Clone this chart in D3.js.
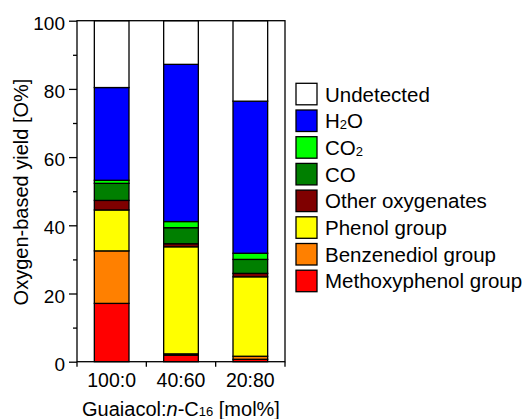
<!DOCTYPE html>
<html><head><meta charset="utf-8">
<script src="https://cdn.jsdelivr.net/npm/d3@7"></script>
<style>body{margin:0;background:#fff}svg{display:block;font-family:"Liberation Sans",Arial,sans-serif}</style>
</head><body><div id="chart"></div>
<script>
const categories = ["100:0", "40:60", "20:80"];
const seriesNames = ["Methoxyphenol group", "Benzenediol group", "Phenol group", "Other oxygenates", "CO", "CO2", "H2O", "Undetected"];
const methoxyphenol = [17.1, 1.9, 0.7];
const benzenediol = [15.4, 0.4, 0.9];
const phenol = [12.0, 31.4, 23.3];
const otherOxygenates = [2.8, 0.9, 1.0];
const co = [5.0, 4.7, 4.1];
const co2 = [0.9, 1.8, 1.8];
const h2o = [27.2, 46.1, 44.6];
const undetected = [19.6, 12.8, 23.6];
const seriesColors = ["#ff0000", "#ff8000", "#ffff00", "#7f0000", "#007f00", "#00ff00", "#0000ff", "#ffffff"];
const yTicks = [0, 20, 40, 60, 80, 100];
const legendOrder = ["Undetected", "H2O", "CO2", "CO", "Other oxygenates", "Phenol group", "Benzenediol group", "Methoxyphenol group"];

(function () {
const seriesValues = [methoxyphenol, benzenediol, phenol, otherOxygenates, co, co2, h2o, undetected];
const table = categories.map((c, i) => {
  const row = {cat: c};
  seriesNames.forEach((s, j) => row[s] = seriesValues[j][i]);
  return row;
});

const W = 531, H = 419;
const pl = 77, pr = 285, pt = 20.7, pb = 361.7;
const svg = d3.select("#chart").append("svg").attr("width", W).attr("height", H);

const x = d3.scaleBand().domain(categories).range([pl, pr]).paddingInner(0.5).paddingOuter(0.25);
const y = d3.scaleLinear().domain([0, 100]).range([pb, pt]);
const color = d3.scaleOrdinal().domain(seriesNames).range(seriesColors);

const stacked = d3.stack().keys(seriesNames)(table);
svg.append("g").selectAll("g").data(stacked).join("g")
  .attr("fill", d => color(d.key))
  .selectAll("rect").data(d => d).join("rect")
  .attr("x", d => x(d.data.cat))
  .attr("width", x.bandwidth())
  .attr("y", d => y(d[1]))
  .attr("height", d => y(d[0]) - y(d[1]))
  .attr("stroke", "#000").attr("stroke-width", 1.3);

svg.append("rect").attr("x", pl).attr("y", pt).attr("width", pr - pl).attr("height", pb - pt)
  .attr("fill", "none").attr("stroke", "#000").attr("stroke-width", 1.3);

const yAxis = svg.append("g").attr("transform", `translate(${pl},0)`)
  .call(d3.axisLeft(y).tickValues(yTicks).tickSize(8).tickPadding(4).tickFormat(d3.format("d")));
yAxis.select(".domain").remove();
yAxis.selectAll("line").attr("stroke", "#000").attr("stroke-width", 1.3);
yAxis.selectAll("text").attr("font-size", 19).attr("fill", "#000").attr("font-family", "Liberation Sans, Arial, sans-serif").attr("dy", "0.45em");
const yMinor = svg.append("g").attr("transform", `translate(${pl},0)`)
  .call(d3.axisLeft(y).tickValues(d3.range(10, 100, 20)).tickSize(4).tickFormat(""));
yMinor.select(".domain").remove();
yMinor.selectAll("line").attr("stroke", "#000").attr("stroke-width", 1.3);

const step = x.step();
const boundaries = d3.range(categories.length + 1).map(i => pl + i * step);
svg.append("g").selectAll("line").data(boundaries).join("line")
  .attr("x1", d => d).attr("x2", d => d).attr("y1", pb).attr("y2", pb + 5)
  .attr("stroke", "#000").attr("stroke-width", 1.3);
svg.append("g").selectAll("text").data(categories).join("text")
  .attr("x", d => x(d) + x.bandwidth() / 2).attr("y", 387.3)
  .attr("text-anchor", "middle").attr("font-size", 19.5).text(d => d);

const xt = svg.append("text").attr("x", 181).attr("y", 416).attr("text-anchor", "middle").attr("font-size", 20);
xt.append("tspan").text("Guaiacol:");
xt.append("tspan").attr("font-style", "italic").text("n");
xt.append("tspan").text("-C");
xt.append("tspan").attr("font-size", 13).text("16");
xt.append("tspan").text(" [mol%]");

svg.append("text").attr("transform", "translate(27.5,192) rotate(-90)").attr("text-anchor", "middle")
  .attr("font-size", 20).text("Oxygen-based yield [O%]");

const lg = svg.append("g");
legendOrder.forEach((name, i) => {
  const yy = 83.3 + i * 26.7;
  lg.append("rect").attr("x", 296).attr("y", yy).attr("width", 21).attr("height", 21.5)
    .attr("fill", color(name)).attr("stroke", "#000").attr("stroke-width", 1.3);
  const t = lg.append("text").attr("x", 325).attr("y", yy + 18.2).attr("font-size", 20.5);
  const m = name.match(/^([A-Z]+)(\d)(.*)$/);
  if (m) {
    t.append("tspan").text(m[1]);
    t.append("tspan").attr("font-size", 13).attr("dy", 1).text(m[2]);
    t.append("tspan").attr("dy", -1).text(m[3]);
  } else t.text(name);
});
})();
</script></body></html>
